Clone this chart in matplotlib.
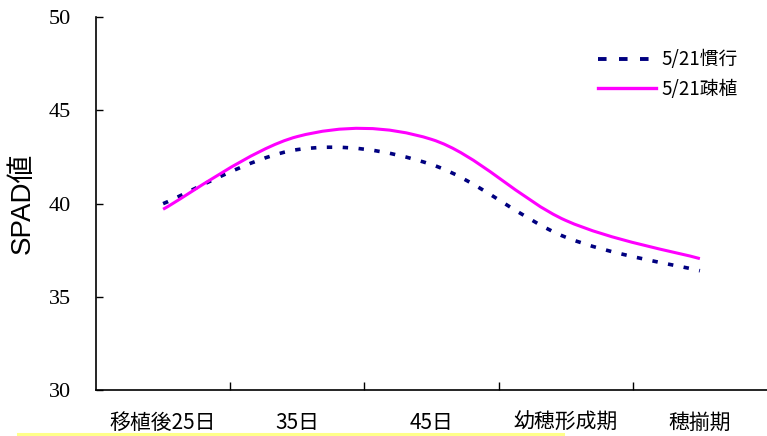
import matplotlib
matplotlib.use("Agg")
import matplotlib.pyplot as plt
from matplotlib.path import Path
from matplotlib.patches import PathPatch
from matplotlib.lines import Line2D
import numpy as np

categories = ["移植後25日", "35日", "45日", "幼穂形成期", "穂揃期"]
series_names = ["5/21慣行", "5/21疎植"]
kanko = [40.0, 42.9, 42.1, 38.2, 36.4]
sokushoku = [39.7, 43.6, 43.45, 39.1, 37.05]
yticks = [30, 35, 40, 45, 50]

CJK = "Noto Sans CJK JP"


def smooth_path(xs, ys):
    """Excel-like smoothed line: cubic Bezier through the data points."""
    pts = np.column_stack([xs, ys]).astype(float)
    n = len(pts)
    verts = [pts[0]]
    codes = [Path.MOVETO]
    for i in range(n - 1):
        p0 = pts[i - 1] if i > 0 else pts[i]
        p1 = pts[i]
        p2 = pts[i + 1]
        p3 = pts[i + 2] if i + 2 < n else pts[i + 1]
        c1 = p1 + (p2 - p0) / 6.0
        c2 = p2 - (p3 - p1) / 6.0
        verts += [c1, c2, p2]
        codes += [Path.CURVE4] * 3
    return Path(verts, codes)


fig = plt.figure(figsize=(7.67, 4.36), dpi=100)
ax = fig.add_axes([96 / 767, 1 - 390 / 436, 1 - 96 / 767, (390 - 17.3) / 436])

x = np.arange(len(categories))

p1 = PathPatch(smooth_path(x, kanko), facecolor="none", edgecolor="#000080",
               lw=2.6, linestyle=(0, (1.5, 2.9)), capstyle="butt")
p2 = PathPatch(smooth_path(x, sokushoku), facecolor="none", edgecolor="#FF00FF",
               lw=2.2)
ax.add_patch(p1)
ax.add_patch(p2)

ax.set_xlim(-0.5, len(categories) - 0.5)
ax.set_ylim(30, 50)

ax.set_yticks(yticks)
ax.set_yticklabels([str(v) for v in yticks], family=["Liberation Serif"], fontsize=16)
ax.tick_params(axis="y", direction="in", length=5, width=1, pad=18, colors="black")

ax.set_xticks(x)
ax.set_xticklabels(categories, family=[CJK], fontsize=15)
ax.tick_params(axis="x", which="major", length=0, pad=16)
ax.set_xticks(x[:-1] + 0.5, minor=True)
ax.tick_params(axis="x", which="minor", direction="in", length=6, width=1)

for s in ["top", "right"]:
    ax.spines[s].set_visible(False)
for s in ["left", "bottom"]:
    ax.spines[s].set_linewidth(1.2)
    ax.spines[s].set_color("black")

ax.set_ylabel("SPAD値", family=["Liberation Sans", CJK], fontsize=20, labelpad=9)

handles = [
    Line2D([], [], color="#000080", lw=2.8, linestyle=(0, (2.2, 3.2))),
    Line2D([], [], color="#FF00FF", lw=2.4),
]
leg = ax.legend(handles, series_names, loc="upper left",
                bbox_to_anchor=(590 / 767, 1 - 42 / 436), bbox_transform=fig.transFigure,
                frameon=False, prop={"family": [CJK], "size": 13.5},
                handlelength=3.1, handletextpad=0.3, labelspacing=0.45,
                borderaxespad=0)

fig.add_artist(Line2D([18 / 767, 563 / 767], [1 - 434 / 436, 1 - 434 / 436],
                      transform=fig.transFigure, color="#FFFF88", lw=2.2))

fig.savefig("out.png", dpi=100)
